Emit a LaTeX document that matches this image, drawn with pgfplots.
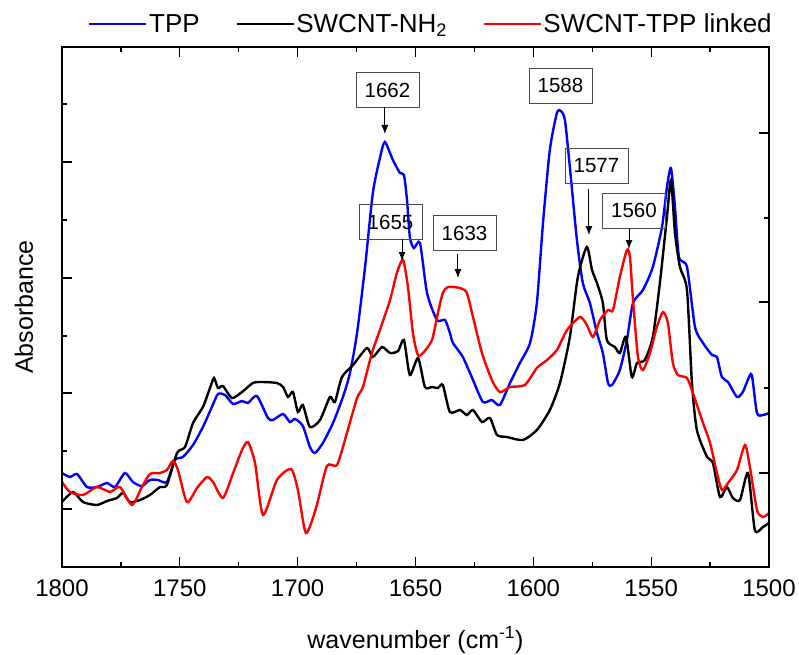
\documentclass[border=0pt]{standalone}
\usepackage{fontspec}
\setmainfont{Liberation Sans}
\usepackage{pgfplots}
\pgfplotsset{compat=1.18}
\usepackage{pgfplotstable}
\usetikzlibrary{arrows.meta}

\pgfplotstableread{
w v
1800 93
1796.6 89
1793.6 92
1789.4 79
1785.2 79
1780.9 83
1777.5 79
1773.3 93
1769.9 84
1766.1 80
1762.7 86
1759.3 86
1755.5 84
1752.1 106
1748.7 109
1744.4 121
1740.2 139
1736.4 159
1733.8 172
1730.8 171
1727.4 162
1723.6 165
1721.1 163
1717.3 170
1712.6 148
1710.5 146
1706.2 152
1703.3 144
1701.1 147
1697.8 140
1694.8 119
1692.7 113
1689.3 123
1685.0 143
1680.8 169
1677.8 193
1674.8 233
1671.4 299
1668.1 373
1665.1 408
1663.0 424
1659.6 406
1656.6 393
1654.9 391
1653.6 366
1652.4 329
1650.7 318
1648.1 323
1645.1 273
1640.9 246
1637.5 246
1635.4 233
1634.1 223
1629.9 209
1625.6 186
1621.4 164
1617.6 166
1614.2 161
1609.9 183
1605.7 203
1601.4 223
1598.5 263
1595.9 343
1593.0 416
1590.0 453
1588.3 455
1586.6 446
1584.5 399
1581.5 326
1579.0 283
1576.0 263
1573.0 233
1570.5 213
1568.3 183
1566.6 181
1563.3 196
1560.3 226
1557.7 263
1553.5 276
1549.3 299
1545.4 339
1543.3 379
1541.6 398
1539.9 359
1538.2 309
1534.8 299
1531.4 239
1528.0 223
1524.2 211
1522.1 209
1520.0 189
1517.4 184
1513.6 169
1511.1 174
1509.0 186
1507.3 191
1505.1 153
1502.6 151
1500 153
}\tpp

\pgfplotstableread{
w v
1800 64
1795.3 74
1791.1 64
1785.2 61
1780.9 65
1776.7 68
1774.1 73
1771.2 64
1766.9 66
1762.7 71
1758.4 79
1755.5 81
1751.2 113
1747.8 119
1744.4 143
1740.2 159
1737.2 178
1735.5 188
1733.8 178
1731.7 180
1727.9 168
1723.6 174
1719.0 183
1715.1 184
1708.8 183
1706.2 179
1704.1 169
1702.0 174
1699.9 154
1697.8 161
1694.8 139
1690.5 146
1686.3 169
1684.2 164
1681.2 189
1676.5 201
1670.6 218
1668.1 209
1664.2 219
1660.8 213
1657.4 215
1654.9 226
1652.4 191
1648.9 208
1646.0 179
1643.0 179
1640.5 178
1638.4 181
1635.4 154
1631.1 156
1628.2 151
1625.6 156
1621.8 144
1618.4 148
1615.4 131
1611.2 129
1604.4 126
1598.5 136
1593.0 156
1588.7 183
1584.5 229
1581.1 289
1577.3 319
1575.1 296
1573.0 283
1570.5 263
1568.8 226
1565.4 219
1563.3 213
1560.7 229
1558.2 189
1556.0 203
1552.7 206
1549.3 229
1546.3 283
1543.3 349
1541.6 386
1539.9 333
1537.8 299
1534.8 276
1532.7 183
1530.6 136
1526.3 109
1523.8 103
1520.8 69
1517.9 79
1515.3 68
1512.3 66
1508.9 93
1506.0 36
1502.6 39
1500 43
}\nh

\pgfplotstableread{
w v
1800 84
1796.6 74
1791.1 71
1785.2 79
1779.6 74
1775.4 79
1770.3 61
1766.1 79
1762.7 92
1758.4 93
1755.5 96
1752.9 105
1750.8 96
1747.0 64
1742.7 78
1738.5 89
1735.9 84
1731.7 68
1727.4 93
1723.6 116
1721.1 124
1718.1 103
1714.7 51
1708.8 86
1702.8 97
1699.9 76
1696.5 33
1692.2 58
1687.6 100
1683.3 101
1679.1 133
1674.8 168
1672.3 179
1668.5 213
1665.1 236
1660.8 266
1657.9 293
1655.3 306
1653.2 279
1651.1 233
1649.0 211
1646.8 213
1643.0 226
1640.5 253
1638.4 273
1636.2 279
1631.1 278
1628.2 273
1625.6 249
1621.8 213
1617.6 186
1614.2 174
1609.9 179
1603.6 181
1598.5 198
1594.2 206
1590.0 216
1585.7 236
1580.2 249
1577.3 241
1574.7 229
1571.7 246
1568.3 256
1566.2 256
1563.3 289
1560.3 316
1559.0 309
1557.7 266
1555.6 209
1553.5 196
1550.5 213
1547.6 239
1545.0 254
1542.9 243
1540.8 203
1538.6 191
1534.8 188
1532.3 173
1528.0 143
1525.0 123
1522.1 93
1520.0 76
1517.4 83
1513.6 96
1510.2 121
1508.1 99
1505.1 56
1502.6 49
1500 53
}\linked

\pgfplotsset{
  common/.style={
    at={(0pt,0pt)}, anchor=south west,
    scale only axis, width=707pt, height=520pt,
    xmin=1500, xmax=1800, x dir=reverse,
    ymin=-1, ymax=519,
    tick align=inside,
    major tick length=10pt, minor tick length=5pt,
    every tick/.style={black, line width=1.3pt},
    axis line style={line width=1.8pt},
  }
}

\tikzset{
  lbl/.style={draw=black!70, line width=0.8pt, minimum width=63pt, minimum height=35pt, inner sep=0pt, font=\fontsize{20.5}{24}\selectfont},
  arr/.style={line width=0.9pt, -{Latex[length=9pt,width=7pt]}},
}

\begin{document}
\begin{tikzpicture}
\path[use as bounding box] (-62pt,-87pt) rectangle (737pt,567pt);
\begin{axis}[common,
  xtick={1500,1550,...,1800}, minor xtick={1525,1575,...,1775},
  xtick pos=both,
  ytick={57,173,288,404}, minor ytick={115,230,346,462}, yticklabels={},
  ytick pos=left,
  /pgf/number format/assume math mode=true,
  /pgf/number format/1000 sep={},
  xticklabel style={font=\fontsize{24}{28}\selectfont, yshift=-9pt},
  xlabel={wavenumber (cm\textsuperscript{-1})},
  xlabel style={font=\fontsize{25}{30}\selectfont, at={([yshift=-81pt]axis description cs:0.5,0)}, anchor=base},
  ylabel={Absorbance},
  ylabel style={font=\fontsize{25}{30}\selectfont, at={([xshift=-38pt]axis description cs:0,0.5)}, anchor=center},
  legend columns=3,
  legend style={draw=none, fill=none, at={(0,1)}, anchor=west, xshift=26pt, yshift=23pt,
    inner sep=0pt, font=\fontsize{26}{30}\selectfont,
    /tikz/every even column/.append style={column sep=34pt},
    nodes={inner xsep=1.5pt, inner ysep=0pt}},
  legend image code/.code={\draw[#1, line width=2.5pt] (0pt,0pt) -- (57pt,0pt);},
]
\addplot[blue, line width=2.4pt, smooth, tension=0.4] table[x=w, y=v] {\tpp};
\addlegendentry{TPP}
\addplot[black, line width=2.4pt, smooth, tension=0.4] table[x=w, y=v] {\nh};
\addlegendentry{SWCNT-NH\textsubscript{2}}
\addplot[red, line width=2.4pt, smooth, tension=0.4] table[x=w, y=v] {\linked};
\addlegendentry{SWCNT-TPP linked}

\node[lbl] at (axis cs:1661.9,476) {1662};
\draw[arr] (axis cs:1663,459) -- (axis cs:1663,432);
\node[lbl] at (axis cs:1660.6,344) {1655};
\draw[arr] (axis cs:1655.7,327) -- (axis cs:1655.7,305);
\node[lbl] at (axis cs:1629.2,333) {1633};
\draw[arr] (axis cs:1632.0,312) -- (axis cs:1632.0,288);
\node[lbl] at (axis cs:1588.5,480.5) {1588};
\node[lbl] at (axis cs:1573.2,400) {1577};
\draw[arr] (axis cs:1576.4,377) -- (axis cs:1576.4,331);
\node[lbl] at (axis cs:1557.3,355.5) {1560};
\draw[arr] (axis cs:1559.4,337) -- (axis cs:1559.4,317);
\end{axis}
\begin{axis}[common,
  xtick=\empty,
  ytick={93,264,433}, minor ytick={178,348}, yticklabels={},
  ytick pos=right,
]
\end{axis}
\end{tikzpicture}
\end{document}
